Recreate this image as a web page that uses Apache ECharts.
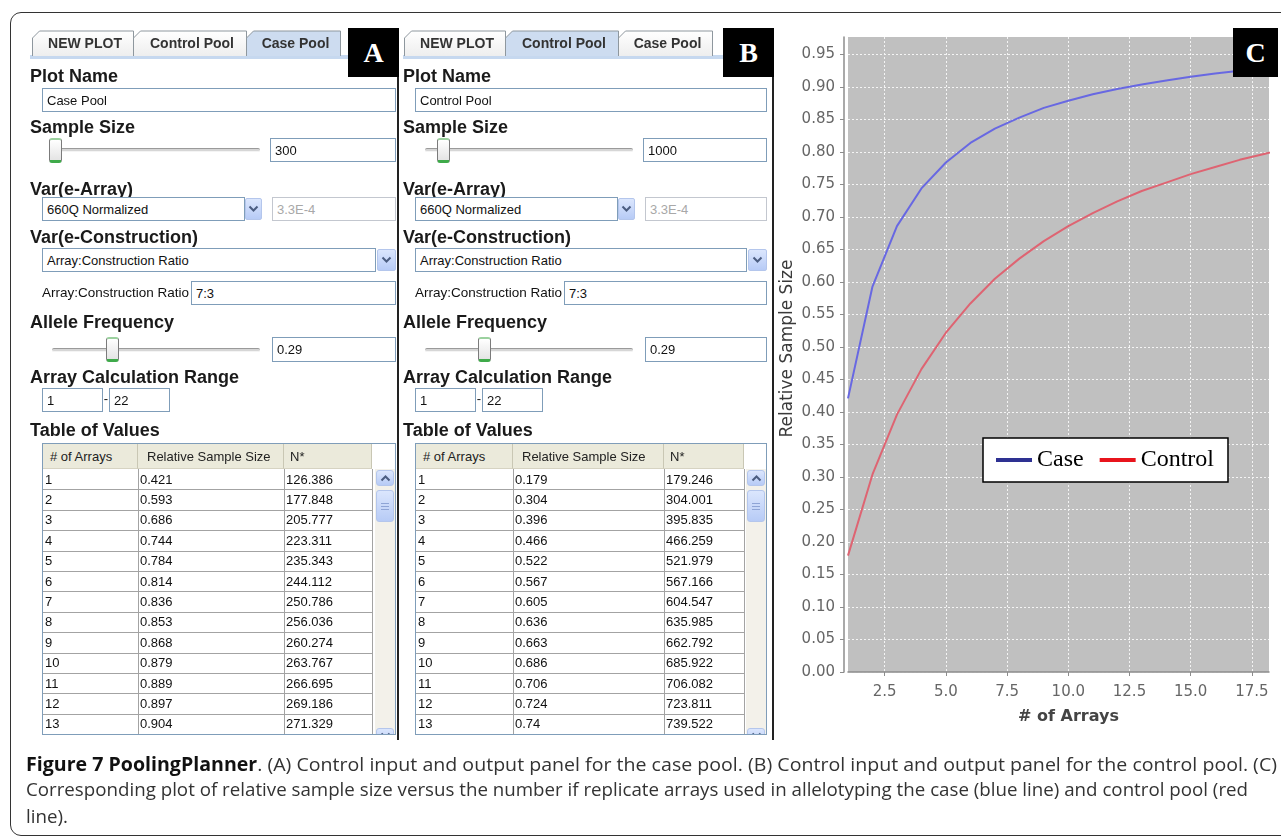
<!DOCTYPE html>
<html><head><meta charset="utf-8">
<script src="https://cdn.jsdelivr.net/npm/echarts@6/dist/echarts.min.js"></script>
<style>
html,body{margin:0;padding:0;background:#fff;}
body{width:1281px;height:836px;position:relative;overflow:hidden;}
.a{position:absolute;box-sizing:border-box;}
.lbl{font:bold 18px 'Liberation Sans',Arial,sans-serif;color:#1a1a1a;line-height:20px;white-space:nowrap;}
.fld{border:1px solid #7f9db9;background:#fff;font:13px 'Liberation Sans',Arial,sans-serif;color:#111;padding-left:4px;display:flex;align-items:center;white-space:nowrap;}
.dis{border-color:#c3c7cf;color:#a8a8a8;}
.btn{background:linear-gradient(#dbe6fd,#b7cbf6);border:1px solid #b4c6ec;border-radius:2px;display:flex;align-items:center;justify-content:center;}
.track{height:4px;background:#d6d6d6;border-top:1px solid #9a9a9a;border-bottom:1px solid #f4f4f4;border-radius:2px;}
.thumb{width:13px;height:25px;border:1px solid #7b7b7b;border-radius:3px;background:linear-gradient(#fff,#e4e4e4);border-top:2px solid #9bd19f;border-bottom:3px solid #3faa4a;}
.box{background:#000;color:#fff;font:bold 28px 'Liberation Serif',serif;display:flex;align-items:center;justify-content:center;}
.cell{font:13px 'Liberation Sans',Arial,sans-serif;color:#111;white-space:nowrap;padding-left:2px;display:flex;align-items:center;border-right:1px solid #a3a3a3;border-bottom:1px solid #a3a3a3;}
.hcell{font:13px 'Liberation Sans',Arial,sans-serif;color:#222;white-space:nowrap;display:flex;align-items:center;background:#ebeadb;border-right:1px solid #c9c7b4;border-bottom:1px solid #d6d3c2;}
.cap{font:19px 'Open Sans',sans-serif;color:#333;white-space:nowrap;line-height:19px;transform-origin:0 0;display:inline-block;}
.cap b{color:#111;}
</style></head>
<body>
<div id="chart" class="a" style="left:0;top:0;width:1281px;height:836px;z-index:1;"></div>
<div id="ui" class="a" style="left:0;top:0;width:1281px;height:836px;z-index:2;"></div>
<script>
// ---------- data ----------
const arrayCounts   = [1, 2, 3, 4, 5, 6, 7, 8, 9, 10, 11, 12, 13, 14, 15, 16, 17, 18, 19];
const caseValues    = [0.421, 0.593, 0.686, 0.744, 0.784, 0.814, 0.836, 0.853, 0.868, 0.879, 0.889, 0.897, 0.904, 0.910, 0.916, 0.921, 0.925, 0.929, 0.932];
const controlValues = [0.179, 0.304, 0.396, 0.466, 0.522, 0.567, 0.605, 0.636, 0.663, 0.686, 0.706, 0.724, 0.740, 0.753, 0.766, 0.777, 0.788, 0.797, 0.806];

const tableRows       = [1, 2, 3, 4, 5, 6, 7, 8, 9, 10, 11, 12, 13];
const caseRelative    = [0.421, 0.593, 0.686, 0.744, 0.784, 0.814, 0.836, 0.853, 0.868, 0.879, 0.889, 0.897, 0.904];
const caseNStar       = [126.386, 177.848, 205.777, 223.311, 235.343, 244.112, 250.786, 256.036, 260.274, 263.767, 266.695, 269.186, 271.329];
const controlRelative = [0.179, 0.304, 0.396, 0.466, 0.522, 0.567, 0.605, 0.636, 0.663, 0.686, 0.706, 0.724, 0.74];
const controlNStar    = [179.246, 304.001, 395.835, 466.259, 521.979, 567.166, 604.547, 635.985, 662.792, 685.922, 706.082, 723.811, 739.522];

const xTicks = [2.5, 5, 7.5, 10, 12.5, 15, 17.5];
const yTicks = [0, 0.05, 0.1, 0.15, 0.2, 0.25, 0.3, 0.35, 0.4, 0.45, 0.5, 0.55, 0.6, 0.65, 0.7, 0.75, 0.8, 0.85, 0.9, 0.95];
const tabNames = ['NEW PLOT', 'Control Pool', 'Case Pool'];
const tableHeaders = ['# of Arrays', 'Relative Sample Size', 'N*'];
const seriesNames = ['Case', 'Control'];

// ---------- UI helpers ----------
const ui = document.getElementById('ui');
function el(parent, cls, st, html) {
  const d = document.createElement('div');
  d.className = 'a ' + (cls || '');
  for (const k in st) d.style[k] = (typeof st[k] === 'number') ? st[k] + 'px' : st[k];
  if (html !== undefined) d.innerHTML = html;
  parent.appendChild(d);
  return d;
}
const chevDown = '<svg width="11" height="8"><polyline points="1.5,1.5 5.5,5.5 9.5,1.5" fill="none" stroke="#4b5d80" stroke-width="2"/></svg>';
const chevUp = '<svg width="11" height="8"><polyline points="1.5,6.5 5.5,2.5 9.5,6.5" fill="none" stroke="#4b5d80" stroke-width="2"/></svg>';

function label(text, x, cy) { el(ui, 'lbl', {left: x, top: cy - 10}, text); }
function field(text, x1, x2, y1, y2, extra) { return el(ui, 'fld ' + (extra || ''), {left: x1, top: y1, width: x2 - x1, height: y2 - y1}, text); }

function tabs(x0, widths, sel) {
  let xs = [], x = 0;
  widths.forEach(w => { xs.push(x); x += w; });
  const order = [0, 1, 2].filter(i => i !== sel).concat([sel]);
  let s = '<svg width="' + (x + 4) + '" height="30" style="position:absolute;left:' + x0 + 'px;top:30px;overflow:visible">' +
    '<defs><linearGradient id="tg' + x0 + '" x1="0" y1="0" x2="0" y2="1"><stop offset="0" stop-color="#ffffff"/><stop offset="1" stop-color="#eeeeee"/></linearGradient></defs>';
  order.forEach(i => {
    const xa = xs[i] + 0.5, xb = xs[i] + widths[i] + 0.5;
    const fill = i === sel ? '#cddcf0' : 'url(#tg' + x0 + ')';
    s += '<path d="M' + xa + ',26 L' + xa + ',8 L' + (xa + 7) + ',1 L' + xb + ',1 L' + xb + ',26" fill="' + fill + '" stroke="#8e979e" stroke-width="1"/>';
    s += '<text x="' + ((xa + xb) / 2 + 2) + '" y="18" text-anchor="middle" font-family="Liberation Sans" font-weight="bold" font-size="14" fill="#333">' + tabNames[i] + '</text>';
  });
  s += '</svg>';
  const wrap = document.createElement('div');
  wrap.innerHTML = s;
  ui.appendChild(wrap.firstChild);
}

function slider(lx, trackX1, trackX2, trackY, thumbX, y1) {
  el(ui, 'track', {left: trackX1, top: trackY - 2, width: trackX2 - trackX1});
  el(ui, 'thumb', {left: thumbX, top: y1});
}

function buildPanel(p) {
  const lx = p.lx, R = p.R;
  el(ui, '', {left: lx, top: 55, width: p.border - 51 - lx, height: 4, background: '#c6d8ef'});
  tabs(p.tabX, [101, 113, 94], p.sel);
  el(ui, 'box', {left: p.border - 51, top: 28, width: 51, height: 49}, p.letter);

  label('Plot Name', lx, 76);
  field(p.plotName, lx + 12, R, 88, 112);

  label('Sample Size', lx, 127);
  slider(lx, lx + 22, lx + 230, 150, p.thumb1, 138);
  field(p.sample, lx + 240, R, 138, 162);

  label('Var(e-Array)', lx, 189);
  field('660Q Normalized', lx + 12, lx + 215, 197, 221);
  el(ui, 'btn', {left: lx + 215, top: 198, width: 17, height: 22}, chevDown);
  field('3.3E-4', lx + 242, R, 197, 221, 'dis');

  label('Var(e-Construction)', lx, 237);
  field('Array:Construction Ratio', lx + 12, R - 20, 248, 272);
  el(ui, 'btn', {left: R - 19, top: 249, width: 19, height: 22}, chevDown);

  el(ui, '', {left: lx + 12, top: 285, font: "13.5px 'Liberation Sans',Arial,sans-serif", color: '#111', whiteSpace: 'nowrap', lineHeight: '16px'}, 'Array:Construction Ratio');
  field('7:3', lx + 161, R, 281, 305);

  label('Allele Frequency', lx, 322);
  slider(lx, lx + 22, lx + 230, 350, p.thumb2, 337);
  field('0.29', lx + 242, R, 337, 362);

  label('Array Calculation Range', lx, 377);
  field('1', lx + 12, lx + 73, 388, 412);
  el(ui, '', {left: lx + 73, top: 391, width: 6, height: 14, font: "13px 'Liberation Sans'", color: '#111', textAlign: 'center'}, '-');
  field('22', lx + 79, lx + 140, 388, 412);

  label('Table of Values', lx, 430);

  const tx = lx + 12, ty = 443, tw = R - tx, th = 292;
  const tb = el(ui, '', {left: tx, top: ty, width: tw, height: th, border: '1px solid #7f9db9', background: '#fff', overflow: 'hidden'});
  const cols = p.cols;
  let cx = 0;
  const pads = [7, 9, 6];
  cols.forEach((w, i) => {
    el(tb, 'hcell', {left: cx, top: 0, width: w, height: 25, paddingLeft: pads[i]}, tableHeaders[i]);
    cx += w;
  });
  const rowH = 20.4;
  tableRows.forEach((r, k) => {
    const vals = [String(r), String(p.rel[k]), String(p.n[k])];
    let x = 0;
    vals.forEach((v, i) => {
      el(tb, 'cell', {left: x, top: 25 + k * rowH, width: cols[i] + 1, height: rowH + 1}, v);
      x += cols[i];
    });
  });
  const sx = tw - 22;
  el(tb, '', {left: sx, top: 25, width: 20, height: th, background: '#f3f1ea'});
  el(tb, 'btn', {left: sx + 1, top: 26, width: 18, height: 16, borderRadius: '3px'}, chevUp);
  el(tb, 'btn', {left: sx + 1, top: 46, width: 18, height: 32, borderRadius: '3px'},
    '<svg width="8" height="9"><line x1="0" y1="1.5" x2="8" y2="1.5" stroke="#8ea4d6"/><line x1="0" y1="4.5" x2="8" y2="4.5" stroke="#8ea4d6"/><line x1="0" y1="7.5" x2="8" y2="7.5" stroke="#8ea4d6"/></svg>');
  el(tb, 'btn', {left: sx + 1, top: th - 8, width: 18, height: 16, borderRadius: '3px'}, chevDown);
}

el(ui, '', {left: 10, top: 12, width: 1300, height: 824, border: '1.5px solid #333', borderRadius: '11px'});
el(ui, '', {left: 397, top: 28, width: 2, height: 712, background: '#222'});
el(ui, '', {left: 772, top: 77, width: 2, height: 663, background: '#222'});

buildPanel({lx: 30, R: 396, border: 399, tabX: 32, sel: 2, letter: 'A', plotName: 'Case Pool', sample: '300',
  thumb1: 49, thumb2: 106, cols: [95, 146, 88], rel: caseRelative, n: caseNStar});
buildPanel({lx: 403, R: 767, border: 774, tabX: 404, sel: 1, letter: 'B', plotName: 'Control Pool', sample: '1000',
  thumb1: 437, thumb2: 478, cols: [97, 151, 80], rel: controlRelative, n: controlNStar});

el(ui, 'box', {left: 1233, top: 28, width: 45, height: 49}, 'C');

const c1 = el(ui, '', {left: 26, top: 755}, '<span class="cap"><b>Figure 7 PoolingPlanner</b>. (A) Control input and output panel for the case pool. (B) Control input and output panel for the control pool. (C)</span>');
const c2 = el(ui, '', {left: 26, top: 780}, '<span class="cap">Corresponding plot of relative sample size versus the number if replicate arrays used in allelotyping the case (blue line) and control pool (red</span>');
const c3 = el(ui, '', {left: 26, top: 807}, '<span class="cap">line).</span>');
function fitCaption() {
  const s1 = c1.firstChild, s2 = c2.firstChild, s3 = c3.firstChild;
  s1.style.transform = s2.style.transform = s3.style.transform = 'none';
  const k1 = 1251 / s1.getBoundingClientRect().width;
  const k2 = 1222 / s2.getBoundingClientRect().width;
  s1.style.transform = 'scaleX(' + k1 + ')';
  s2.style.transform = 'scaleX(' + k2 + ')';
  s3.style.transform = 'scaleX(' + k2 + ')';
}
fitCaption();
if (document.fonts && document.fonts.ready) document.fonts.ready.then(fitCaption);

// ---------- chart ----------
const chart = echarts.init(document.getElementById('chart'), null, {renderer: 'canvas'});
const axisGray = '#8c8c8c';
chart.setOption({
  animation: false,
  backgroundColor: 'transparent',
  grid: {left: 848, right: 12, top: 37, bottom: 164, show: true, backgroundColor: '#c0c0c0', borderWidth: 0},
  legend: {
    data: [{name: seriesNames[0], itemStyle: {color: '#2e3192'}}, {name: seriesNames[1], itemStyle: {color: '#e8141c'}}],
    icon: 'rect', itemWidth: 36, itemHeight: 4, itemGap: 16,
    left: 983, top: 438,
    backgroundColor: '#fff', borderColor: '#000', borderWidth: 1.5, borderRadius: 0,
    padding: [10, 14, 10, 13],
    textStyle: {fontFamily: 'Liberation Serif', fontSize: 24, color: '#000'}
  },
  xAxis: {
    type: 'value', min: 1, max: 18.2, offset: 4,
    name: '# of Arrays', nameLocation: 'middle', nameGap: 33,
    nameTextStyle: {fontFamily: 'DejaVu Sans', fontSize: 16, fontWeight: 'bold', color: '#444', padding: [0, 0, 0, 20]},
    axisLine: {show: true, lineStyle: {color: axisGray, width: 1.5}},
    axisTick: {show: true, length: 4, customValues: xTicks, lineStyle: {color: axisGray}},
    axisLabel: {customValues: xTicks, formatter: v => v.toFixed(1), color: '#666', fontSize: 15, fontFamily: 'DejaVu Sans', margin: 9},
    splitLine: {show: true, lineStyle: {color: '#f4f4f4', type: [2, 2], width: 1}}
  },
  yAxis: {
    type: 'value', min: 0, max: 0.977, offset: 4,
    name: 'Relative Sample Size', nameLocation: 'middle', nameGap: 48,
    nameTextStyle: {fontFamily: 'DejaVu Sans', fontSize: 17, color: '#3a3a3a', padding: [0, 0, 0, 12]},
    axisLine: {show: true, lineStyle: {color: axisGray, width: 1.5}},
    axisTick: {show: true, length: 4, customValues: yTicks, lineStyle: {color: axisGray}},
    axisLabel: {customValues: yTicks, formatter: v => v.toFixed(2), color: '#666', fontSize: 15, fontFamily: 'DejaVu Sans', margin: 9},
    splitLine: {show: true, lineStyle: {color: '#f4f4f4', type: [2, 2], width: 1}}
  },
  series: [
    {type: 'line', name: seriesNames[0], data: arrayCounts.map((a, i) => [a, caseValues[i]]),
      showSymbol: false, clip: true, lineStyle: {color: '#6868e2', width: 2}, itemStyle: {color: '#6868e2'}},
    {type: 'line', name: seriesNames[1], data: arrayCounts.map((a, i) => [a, controlValues[i]]),
      showSymbol: false, clip: true, lineStyle: {color: '#de6472', width: 2}, itemStyle: {color: '#de6472'}}
  ]
});
</script>
</body></html>
